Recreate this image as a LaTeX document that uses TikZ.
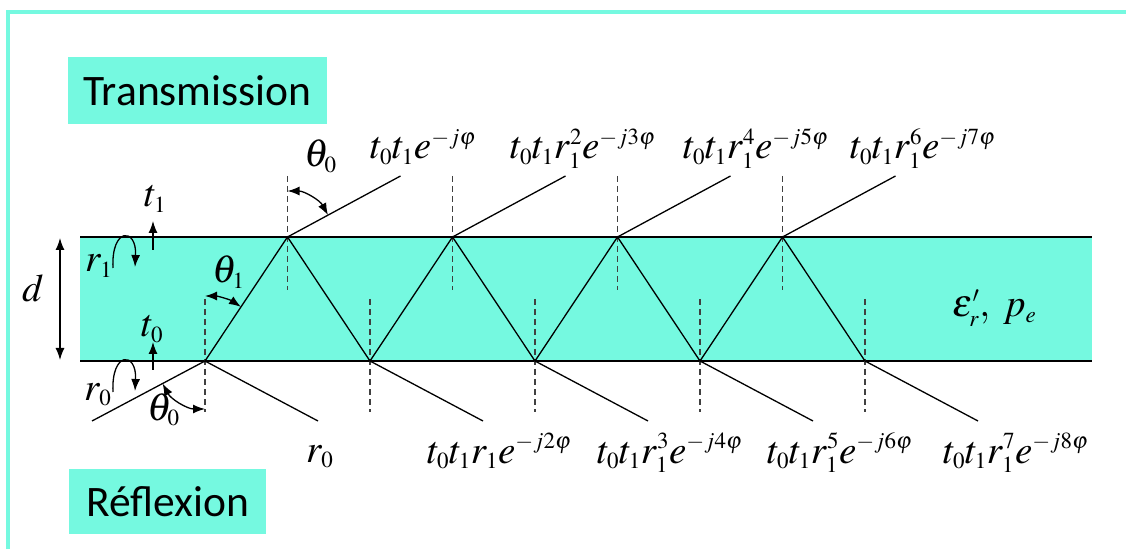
\documentclass[tikz,border=0pt]{standalone}
\usepackage{mathptmx}
\usepackage[no-math]{fontspec}
\newfontfamily\boxfont{Carlito}
\usepackage{tikz}
\usetikzlibrary{arrows.meta}
\DeclareMathSizes{39}{39}{23}{17}
\definecolor{slabcyan}{RGB}{117,249,224}
\tikzset{
  frame-line/.style={draw=slabcyan, line width=3.5pt},
  slab-layer/.style={fill=slabcyan},
  slab-edge/.style={draw=black, line width=1.4pt},
  ray-line/.style={draw=black, line width=1.3pt},
  normal-line/.style={draw=black!75, line width=1.6pt, dash pattern=on 6pt off 4pt},
  tip-arrow/.style={line width=1.3pt, -{Latex[length=12pt,width=9pt]}},
  angle-arc/.style={line width=1.3pt, {Latex[length=12pt,width=9pt]}-{Latex[length=12pt,width=9pt]}},
  coef-label/.style={inner sep=0pt, anchor=base west, font=\fontsize{39}{43}\selectfont},
  title-box/.style={fill=slabcyan, inner sep=0pt, font=\boxfont\fontsize{43.5}{50}\selectfont}
}

\begin{document}
\begin{tikzpicture}[x=1pt,y=1pt]
  \useasboundingbox (0,0) rectangle (1126,549);
  \draw[frame-line] (8,0) -- (8,537) -- (1126,537);
  \node[title-box, minimum width=259pt, minimum height=67pt] (trans) at (197.5,458.5) {Transmission};
  \node[title-box, minimum width=197pt, minimum height=65pt] (refl) at (167.5,47.5) {R\'eflexion};
  \fill[slab-layer] (80,188) rectangle (1092,312);
  \draw[slab-edge] (80,312) -- (1092,312);
  \draw[slab-edge] (80,188) -- (1092,188);
  \coordinate (dtop) at (60,311);
  \coordinate (dbot) at (60,189);
  \draw[angle-arc] (dtop) -- (dbot);
  \node[coef-label] (dlab) at (22,247) {$d$};
  \coordinate (inc) at (92,128);
  \foreach \k in {0,...,4} \coordinate (B\k) at ({205+165*\k},188);
  \foreach \k in {1,...,4} \coordinate (T\k) at ({122.5+165*\k},312);
  \foreach \k in {1,...,4} \draw[normal-line] (T\k) ++(0,61) -- ++(0,-114);
  \foreach \k in {0,...,4} \draw[normal-line] (B\k) ++(0,62) -- ++(0,-113);
  \draw[ray-line] (inc) -- (B0) -- (T1) -- (B1) -- (T2) -- (B2) -- (T3) -- (B3) -- (T4) -- (B4);
  \foreach \k in {0,...,4} \draw[ray-line] (B\k) -- ++(113,-60);
  \foreach \k in {1,...,4} \draw[ray-line] (T\k) -- ++(113,61);
  \draw[angle-arc] ([shift={(90:46)}]T1) arc[start angle=90, end angle=28.4, radius=46];
  \draw[angle-arc] ([shift={(90:65)}]B0) arc[start angle=90, end angle=56.4, radius=65];
  \draw[angle-arc] ([shift={(208:48)}]B0) arc[start angle=208, end angle=270, radius=48];
  \node[coef-label] (th0t) at (304,382) {$\theta_0$};
  \node[coef-label] (th1) at (212,266) {$\theta_1$};
  \node[coef-label] (th0b) at (147,129) {$\theta_0$};
  \draw[tip-arrow] (153,299) -- (153,328);
  \draw[tip-arrow] (153,179) -- (153,207);
  \draw[tip-arrow] (113,281) .. controls (111,322) and (137,322) .. (135,282);
  \draw[tip-arrow] (113,157) .. controls (111,198) and (137,198) .. (135,158);
  \node[coef-label] (t1lab) at (144,342) {$t_1$};
  \node[coef-label] (t0lab) at (141,212) {$t_0$};
  \node[coef-label] (r1lab) at (85,277) {$r_1$};
  \node[coef-label] (r0lab) at (84,149) {$r_0$};
  \node[coef-label] (tl1) at (370,390) {$t_0t_1e^{-j\varphi}$};
  \node[coef-label] (tl2) at (510,390) {$t_0t_1r_1^2e^{-j3\varphi}$};
  \node[coef-label] (tl3) at (683,390) {$t_0t_1r_1^4e^{-j5\varphi}$};
  \node[coef-label] (tl4) at (850,390) {$t_0t_1r_1^6e^{-j7\varphi}$};
  \node[coef-label] (bl0) at (306,87) {$r_0$};
  \node[coef-label] (bl1) at (427,86) {$t_0t_1r_1e^{-j2\varphi}$};
  \node[coef-label] (bl2) at (597,86) {$t_0t_1r_1^3e^{-j4\varphi}$};
  \node[coef-label] (bl3) at (767,86) {$t_0t_1r_1^5e^{-j6\varphi}$};
  \node[coef-label] (bl4) at (943,86) {$t_0t_1r_1^7e^{-j8\varphi}$};
  \node[coef-label] (eps) at (952,232) {$\varepsilon'_r,\; p_e$};
\end{tikzpicture}
\end{document}
